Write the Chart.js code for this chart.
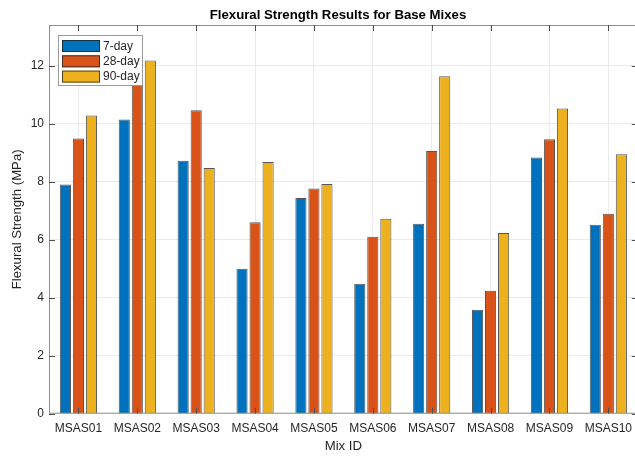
<!DOCTYPE html>
<html>
<head>
<meta charset="utf-8">
<script src="https://cdn.jsdelivr.net/npm/chart.js@4/dist/chart.umd.min.js"></script>
<style>
  html, body { margin: 0; padding: 0; background: #fff; overflow: hidden; }
  #wrap { position: relative; width: 640px; height: 457px; }
</style>
</head>
<body>
<div id="wrap"><canvas id="c" width="640" height="457"></canvas></div>
<script>
// Mix identifiers and flexural strength (MPa) by curing age
const mixIds = ['MSAS01', 'MSAS02', 'MSAS03', 'MSAS04', 'MSAS05', 'MSAS06', 'MSAS07', 'MSAS08', 'MSAS09', 'MSAS10'];
const day7  = [7.90, 10.14, 8.72, 5.00, 7.44, 4.48, 6.55, 3.58, 8.83, 6.51];
const day28 = [9.49, 11.70, 10.46, 6.60, 7.76, 6.10, 9.06, 4.24, 9.46, 6.89];
const day90 = [10.28, 12.18, 8.47, 8.68, 7.92, 6.72, 11.63, 6.23, 10.52, 8.94];
const yTicks = [0, 2, 4, 6, 8, 10, 12];
const yMax = 13.4;

const seriesNames = ['7-day', '28-day', '90-day'];
const seriesColors = ['#0072BD', '#D95319', '#EDB120'];
const chartTitle = 'Flexural Strength Results for Base Mixes';
const xTitle = 'Mix ID';
const yTitle = 'Flexural Strength (MPa)';

const FONT = '"Liberation Sans", Arial, Helvetica, sans-serif';
const TEXT = '#262626';
const GRID = '#ebebeb';

// Axes box with inward tick marks
const axesFrame = {
  id: 'axesFrame',
  afterDatasetsDraw(chart) {
    const { ctx, chartArea: a, scales: { x, y } } = chart;
    ctx.save();
    ctx.strokeStyle = '#8f8f8f';
    ctx.lineWidth = 1;
    ctx.strokeRect(a.left + 0.5, a.top + 0.5, a.right - a.left - 1, a.bottom - a.top - 1);
    ctx.strokeStyle = '#4d4d4d';
    ctx.beginPath();
    x.ticks.forEach((t, i) => {
      const px = Math.round(x.getPixelForTick(i)) + 0.5;
      ctx.moveTo(px, a.bottom); ctx.lineTo(px, a.bottom - 6);
      ctx.moveTo(px, a.top); ctx.lineTo(px, a.top + 6);
    });
    yTicks.forEach(v => {
      const py = Math.round(y.getPixelForValue(v)) + 0.5;
      ctx.moveTo(a.left, py); ctx.lineTo(a.left + 6, py);
      ctx.moveTo(a.right, py); ctx.lineTo(a.right - 6, py);
    });
    ctx.stroke();
    ctx.restore();
  }
};

// Boxed legend in the upper-left corner of the axes
const boxLegend = {
  id: 'boxLegend',
  afterDatasetsDraw(chart) {
    const { ctx } = chart;
    const bx = 58.5, by = 35.5, bw = 84, bh = 50;
    ctx.save();
    ctx.fillStyle = '#ffffff';
    ctx.fillRect(bx, by, bw, bh);
    ctx.strokeStyle = '#9a9a9a';
    ctx.lineWidth = 1;
    ctx.strokeRect(bx, by, bw, bh);
    ctx.font = '12px ' + FONT;
    ctx.textBaseline = 'middle';
    ctx.textAlign = 'left';
    chart.data.datasets.forEach((ds, i) => {
      const cy = 46 + i * 15.3;
      ctx.fillStyle = ds.backgroundColor;
      ctx.fillRect(62, cy - 6, 38, 12);
      ctx.strokeStyle = 'rgba(30,30,30,0.75)';
      ctx.strokeRect(62.5, cy - 5.5, 37, 11);
      ctx.fillStyle = TEXT;
      ctx.fillText(ds.label, 103, cy + 0.5);
    });
    ctx.restore();
  }
};

// Bold title centred above the axes
const topTitle = {
  id: 'topTitle',
  afterDraw(chart) {
    const { ctx } = chart;
    ctx.save();
    ctx.font = 'bold 13.2px ' + FONT;
    ctx.fillStyle = '#000';
    ctx.textAlign = 'center';
    ctx.textBaseline = 'middle';
    ctx.fillText(chartTitle, 338, 15);
    ctx.restore();
  }
};

const seriesValues = [day7, day28, day90];

new Chart(document.getElementById('c'), {
  type: 'bar',
  data: {
    labels: mixIds,
    datasets: seriesNames.map((name, i) => ({
      label: name,
      data: seriesValues[i],
      backgroundColor: seriesColors[i],
      borderColor: 'rgba(30,30,30,0.75)',
      borderWidth: 1,
      categoryPercentage: 0.664,
      barPercentage: 0.855
    }))
  },
  options: {
    responsive: false,
    animation: false,
    devicePixelRatio: 1,
    layout: { padding: { top: 25, left: 0, right: 0, bottom: 0 } },
    plugins: {
      legend: { display: false },
      title: { display: false },
      tooltip: { enabled: false }
    },
    scales: {
      x: {
        type: 'category',
        offset: true,
        grid: { offset: false, color: GRID, drawTicks: false },
        border: { display: false },
        ticks: { font: { family: FONT, size: 12 }, color: TEXT, padding: 8, maxRotation: 0, autoSkip: false },
        title: { display: true, text: xTitle, font: { family: FONT, size: 13.2 }, color: TEXT, padding: { top: 0, bottom: 3 } },
        afterFit(s) { s.height = 43.3; }
      },
      y: {
        min: 0,
        max: yMax,
        grid: { color: GRID, drawTicks: false },
        border: { display: false },
        ticks: { font: { family: FONT, size: 12 }, color: TEXT, padding: 5 },
        afterBuildTicks(s) { s.ticks = yTicks.map(v => ({ value: v })); },
        title: { display: true, text: yTitle, font: { family: FONT, size: 13.2 }, color: TEXT, padding: { top: 9, bottom: 0 } },
        afterFit(s) { s.width = 49; }
      }
    }
  },
  plugins: [axesFrame, boxLegend, topTitle]
});
</script>
</body>
</html>
